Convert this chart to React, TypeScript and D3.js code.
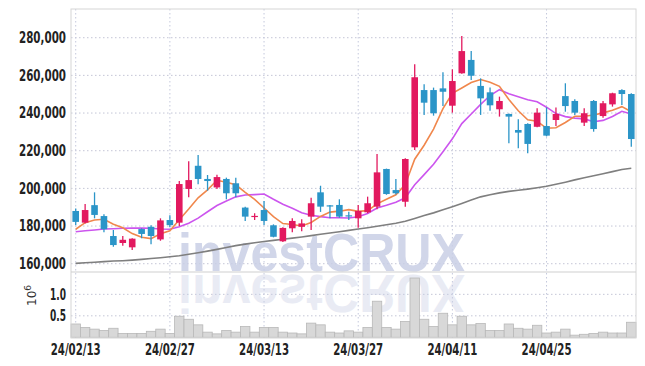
import React from "react";
import * as d3 from "d3";

// trading days shown on the chart
const dates = [
  "24/02/13", "24/02/14", "24/02/15", "24/02/16", "24/02/19", "24/02/20", "24/02/21", "24/02/22", "24/02/23", "24/02/26",
  "24/02/27", "24/02/28", "24/02/29", "24/03/04", "24/03/05", "24/03/06", "24/03/07", "24/03/08", "24/03/11", "24/03/12",
  "24/03/13", "24/03/14", "24/03/15", "24/03/18", "24/03/19", "24/03/20", "24/03/21", "24/03/22", "24/03/25", "24/03/26",
  "24/03/27", "24/03/28", "24/03/29", "24/04/01", "24/04/02", "24/04/03", "24/04/04", "24/04/05", "24/04/08", "24/04/09",
  "24/04/11", "24/04/12", "24/04/15", "24/04/16", "24/04/17", "24/04/18", "24/04/19", "24/04/22", "24/04/23", "24/04/24",
  "24/04/25", "24/04/26", "24/04/29", "24/04/30", "24/05/02", "24/05/03", "24/05/07", "24/05/08", "24/05/09", "24/05/10",
];
const tickDates = ["24/02/13", "24/02/27", "24/03/13", "24/03/27", "24/04/11", "24/04/25"];

// prices in thousands
const opens = [
  188.0, 181.8, 191.1, 185.3, 174.7, 171.0, 168.7, 178.4, 179.6, 172.9,
  183.2, 181.8, 199.7, 212.0, 205.0, 200.5, 205.0, 202.7, 189.8, 185.0,
  188.5, 180.4, 171.9, 178.8, 179.6, 185.0, 197.9, 191.0, 191.2, 185.7,
  184.1, 187.3, 190.3, 210.3, 199.1, 192.9, 221.8, 252.2, 252.2, 253.1,
  243.9, 261.1, 268.2, 254.4, 251.0, 242.0, 239.5, 231.0, 234.2, 232.7,
  233.1, 236.3, 249.0, 246.4, 234.9, 246.4, 238.4, 244.6, 252.2, 250.1,
];
const highs = [
  189.3, 191.7, 197.9, 186.2, 177.9, 174.7, 173.5, 178.8, 180.4, 184.1,
  185.7, 203.9, 214.4, 217.7, 207.1, 207.3, 205.7, 205.7, 190.3, 186.8,
  193.3, 180.9, 179.4, 184.1, 183.6, 195.0, 201.4, 191.2, 194.2, 187.6,
  191.2, 195.6, 218.2, 210.5, 205.0, 216.0, 265.9, 255.3, 253.5, 261.6,
  263.2, 280.9, 272.9, 258.4, 253.5, 248.7, 239.8, 236.7, 234.6, 242.5,
  243.0, 243.0, 255.8, 247.3, 242.5, 246.9, 246.4, 250.8, 252.6, 250.5,
];
const lows = [
  180.5, 181.3, 184.1, 176.7, 169.0, 169.6, 167.3, 173.5, 170.3, 172.2,
  179.3, 180.0, 195.3, 202.2, 198.8, 199.7, 194.2, 195.3, 182.7, 183.2,
  180.5, 174.0, 171.5, 176.7, 177.2, 177.9, 187.5, 184.1, 184.4, 183.2,
  179.1, 186.8, 188.9, 196.6, 196.8, 190.3, 220.4, 239.0, 238.6, 243.7,
  240.2, 260.8, 257.5, 239.0, 241.2, 238.1, 223.9, 221.3, 218.6, 232.4,
  227.6, 233.1, 240.7, 239.0, 233.1, 230.1, 237.5, 243.4, 244.3, 222.1,
];
const closes = [
  182.2, 188.5, 185.9, 178.3, 169.9, 172.7, 173.3, 175.8, 174.7, 183.0,
  180.5, 202.3, 204.4, 205.0, 203.9, 206.0, 197.4, 197.4, 185.0, 185.4,
  182.7, 174.3, 179.0, 182.7, 181.4, 192.1, 190.3, 190.6, 185.0, 185.3,
  188.0, 192.1, 208.5, 197.0, 197.4, 215.6, 259.0, 245.5, 239.9, 251.3,
  257.0, 272.9, 259.8, 247.8, 244.1, 246.4, 238.1, 229.6, 223.6, 240.2,
  228.0, 239.5, 243.7, 240.2, 239.9, 231.5, 245.2, 250.5, 250.1, 226.2,
];
// volume in millions
const volumes = [
  0.31, 0.23, 0.19, 0.16, 0.21, 0.09, 0.09, 0.09, 0.14, 0.19,
  0.09, 0.49, 0.42, 0.29, 0.12, 0.08, 0.16, 0.12, 0.25, 0.12,
  0.23, 0.23, 0.12, 0.10, 0.08, 0.33, 0.29, 0.12, 0.10, 0.15,
  0.12, 0.23, 0.84, 0.23, 0.19, 0.37, 1.38, 0.42, 0.25, 0.56,
  0.29, 0.49, 0.29, 0.32, 0.16, 0.16, 0.31, 0.21, 0.19, 0.28,
  0.10, 0.12, 0.19, 0.05, 0.07, 0.09, 0.12, 0.10, 0.10, 0.35,
];
// moving averages (thousands)
const ma5 = [
  178.3, 181.8, 183.2, 183.6, 181.0, 179.1, 176.0, 174.0, 173.3, 175.9,
  177.5, 183.3, 189.0, 195.0, 199.2, 204.3, 203.3, 201.9, 197.9, 194.2,
  189.6, 185.0, 181.3, 180.8, 180.0, 181.9, 185.1, 187.4, 187.9, 188.7,
  187.8, 188.2, 191.8, 194.2, 196.6, 202.1, 215.5, 222.9, 231.5, 242.3,
  250.5, 253.3, 256.2, 257.8, 256.3, 254.2, 247.2, 241.2, 236.4, 235.6,
  231.9, 232.2, 235.0, 238.3, 238.3, 239.0, 240.1, 241.5, 243.4, 240.7,
];
const ma10 = [
  177.0, 177.5, 177.9, 178.4, 178.6, 178.8, 178.9, 179.0, 178.8, 178.4,
  178.3, 179.6, 181.5, 184.2, 187.6, 190.9, 193.3, 195.5, 196.5, 196.7,
  197.0, 194.2, 191.6, 189.4, 187.1, 185.7, 185.0, 184.4, 184.4, 184.3,
  184.9, 186.7, 189.6, 191.0, 192.6, 195.0, 201.9, 207.3, 212.8, 219.4,
  226.3, 234.4, 239.5, 244.6, 249.3, 252.4, 250.3, 248.7, 247.1, 246.0,
  243.1, 239.7, 238.1, 237.3, 236.9, 235.4, 236.1, 238.2, 240.9, 239.5,
];
const maLong = [
  160.2, 160.5, 160.8, 161.1, 161.4, 161.6, 161.9, 162.3, 162.8, 163.2,
  163.7, 164.2, 165.0, 165.8, 166.7, 167.6, 168.6, 169.6, 170.4, 171.1,
  171.8, 172.4, 173.0, 173.6, 174.2, 174.9, 175.6, 176.3, 177.0, 177.7,
  178.4, 179.1, 179.9, 180.7, 181.5, 182.5, 184.0, 185.6, 187.0, 188.6,
  190.3, 192.0, 193.8, 195.5, 196.6, 197.6, 198.4, 199.0, 199.6, 200.3,
  201.1, 202.2, 203.3, 204.5, 205.6, 206.7, 207.8, 208.9, 210.0, 210.7,
];
const priceTicks = [160, 180, 200, 220, 240, 260, 280];
const volumeTicks = [0.5, 1.0];

const UP = "#e2195f";
const DOWN = "#2b95c8";
const tickFont = "'DejaVu Sans', sans-serif";

export default function App() {
  const left = 71;
  const right = 636;
  const top = 9;
  const mid = 272;
  const bottom = 338;

  const x = d3.scaleBand<string>().domain(dates).range([left, right]);
  const cx = (i: number) => (x(dates[i]) as number) + x.bandwidth() / 2;
  const y = d3.scaleLinear().domain([155.6, 295.24]).range([mid, top]);
  const vy = d3.scaleLinear().domain([0, 1.52]).range([337.3, mid]);

  const line = (vals: number[]) =>
    d3
      .line<number>()
      .x((_, i) => cx(i))
      .y((d) => y(d))(vals) as string;

  const bodyW = x.bandwidth() * 0.7;

  return (
    <svg
      width={645}
      height={366}
      style={{ position: "absolute", left: 0, top: 0, background: "#fff" }}
    >
      <defs>
        <clipPath id="pricePanel">
          <rect x={left} y={top} width={right - left} height={mid - top} />
        </clipPath>
        <clipPath id="volPanel">
          <rect x={left} y={mid + 1} width={right - left} height={bottom - mid - 1} />
        </clipPath>
      </defs>

      {/* grid */}
      {priceTicks.map((t) => (
        <line
          key={"pg" + t}
          x1={left}
          x2={right}
          y1={y(t)}
          y2={y(t)}
          stroke="#c4c6d6"
          strokeDasharray="1.5,2.5"
        />
      ))}
      {volumeTicks.map((t) => (
        <line
          key={"vg" + t}
          x1={left}
          x2={right}
          y1={vy(t)}
          y2={vy(t)}
          stroke="#c4c6d6"
          strokeDasharray="1.5,2.5"
        />
      ))}
      {tickDates.map((d) => (
        <line
          key={"xg" + d}
          x1={cx(dates.indexOf(d))}
          x2={cx(dates.indexOf(d))}
          y1={top}
          y2={bottom}
          stroke="#c4c8dc"
          strokeDasharray="1.5,2.5"
        />
      ))}

      {/* watermark and its reflection */}
      <g fontFamily="'Liberation Sans', Arial, sans-serif" fontWeight="bold" fontSize={54}>
        <g clipPath="url(#pricePanel)">
          <text x={178} y={mid - 1} textLength={287} lengthAdjust="spacingAndGlyphs" fill="#c9cfe6" opacity={0.85}>
            investCRUX
          </text>
        </g>
        <g clipPath="url(#volPanel)" opacity={0.4}>
          <text
            x={178}
            y={mid - 1}
            textLength={287}
            lengthAdjust="spacingAndGlyphs"
            fill="#c9cfe6"
            transform={`translate(0,${2 * mid + 2}) scale(1,-1)`}
          >
            investCRUX
          </text>
        </g>
      </g>

      {/* volume */}
      {volumes.map((v, i) => (
        <rect
          key={"v" + i}
          x={x(dates[i]) as number}
          y={vy(v)}
          width={x.bandwidth()}
          height={vy(0) - vy(v)}
          fill="#d8d8d8"
          stroke="#b8b8b8"
          strokeWidth={0.8}
        />
      ))}

      {/* moving averages */}
      <path d={line(maLong)} fill="none" stroke="#7f7f7f" strokeWidth={1.6} />
      <path d={line(ma10)} fill="none" stroke="#cc55ee" strokeWidth={1.6} />
      <path d={line(ma5)} fill="none" stroke="#f0874c" strokeWidth={1.6} />

      {/* candles */}
      {dates.map((d, i) => {
        const up = closes[i] >= opens[i];
        const c = up ? UP : DOWN;
        const yTop = y(Math.max(opens[i], closes[i]));
        const yBot = y(Math.min(opens[i], closes[i]));
        const h = Math.max(yBot - yTop, 1.2);
        return (
          <g key={"c" + i}>
            <line x1={cx(i)} x2={cx(i)} y1={y(highs[i])} y2={y(lows[i])} stroke={c} strokeWidth={1.3} />
            <rect x={cx(i) - bodyW / 2} y={yTop} width={bodyW} height={h} fill={c} />
          </g>
        );
      })}

      {/* frame */}
      <rect x={left} y={top} width={right - left} height={bottom - top} fill="none" stroke="#d6d6d6" />
      <line x1={left} x2={right} y1={mid} y2={mid} stroke="#cfcfcf" />

      {/* axes labels */}
      <g fontFamily={tickFont} fontWeight="bold" fontSize={15} fill="#222" textAnchor="end">
        {priceTicks.map((t) => (
          <text key={"pt" + t} x={66} y={y(t)} dy="0.36em" textLength={47} lengthAdjust="spacingAndGlyphs">
            {d3.format(",")(t * 1000)}
          </text>
        ))}
        {volumeTicks.map((t) => (
          <text key={"vt" + t} x={66} y={vy(t)} dy="0.36em" textLength={16} lengthAdjust="spacingAndGlyphs">
            {d3.format(".1f")(t)}
          </text>
        ))}
      </g>
      <g fontFamily={tickFont} fontWeight="bold" fontSize={15} fill="#222" textAnchor="middle">
        {tickDates.map((d) => (
          <text key={"xt" + d} x={cx(dates.indexOf(d))} y={355} textLength={50} lengthAdjust="spacingAndGlyphs">
            {d}
          </text>
        ))}
      </g>
      <text
        transform="translate(36,306) rotate(-90)"
        fontFamily="'DejaVu Sans', sans-serif"
        fontSize={12}
        fill="#333"
      >
        10<tspan dy={-5} fontSize={9}>6</tspan>
      </text>
    </svg>
  );
}
